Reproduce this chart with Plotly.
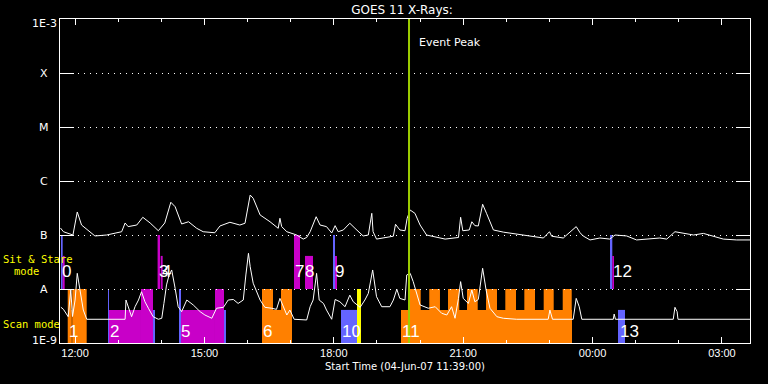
import numpy as np
import plotly.graph_objects as go
from datetime import datetime, timedelta

# ---------------- data ----------------
START = datetime(2007, 6, 4)          # clock hours below are counted from 04-Jun-07 00:00
RANGE_H = [11.65, 27.65]               # 11:39 -> 03:39 next day
EVENT_PEAK_H = 19.743

# GOES 1-8 A (upper) channel
long_h = [11.66, 11.73, 11.95, 12.05, 12.15, 12.35, 12.46, 12.73, 13.08, 13.16, 13.23, 13.43,
          13.57, 13.74, 13.93, 14.08, 14.22, 14.32, 14.47, 14.63, 14.82, 14.97, 15.24, 15.36,
          15.59, 15.82, 15.94, 16.06, 16.13, 16.29, 16.52, 16.71, 16.75, 16.79, 16.91, 17.14,
          17.29, 17.37, 17.45, 17.59, 17.68, 17.83, 17.95, 18.03, 18.10, 18.22, 18.37, 18.49,
          18.68, 18.80, 18.88, 18.91, 18.99, 19.38, 19.43, 19.53, 19.65, 19.70, 19.77, 19.88,
          20.00, 20.15, 20.46, 20.58, 20.89, 20.94, 20.99, 21.14, 21.20, 21.27, 21.35, 21.45,
          21.54, 21.70, 21.93, 22.24, 22.55, 22.86, 23.00, 23.05, 23.32, 23.62, 23.71, 23.78,
          23.94, 24.17, 24.40, 24.52, 24.79, 25.02, 25.56, 25.72, 25.91, 26.10, 26.34, 26.57,
          26.80, 27.03, 27.34, 27.65]
long_flux = [1.35e-7, 1.15e-7, 1.0e-7, 2.67e-7, 1.53e-7, 1.15e-7, 9.6e-8, 1.0e-7, 1.15e-7, 1.67e-7, 1.43e-7, 1.53e-7,
             2.13e-7, 1.67e-7, 1.2e-7, 1.67e-7, 4.04e-7, 3.34e-7, 1.6e-7, 1.76e-7, 1.33e-7, 1.15e-7, 1.1e-7, 1.47e-7,
             1.72e-7, 1.53e-7, 1.65e-7, 5.5e-7, 4.79e-7, 2.35e-7, 1.76e-7, 1.33e-7, 2.04e-7, 1.43e-7, 1.15e-7, 1.0e-7,
             8.4e-8, 9.0e-8, 1.15e-7, 2.18e-7, 1.53e-7, 1.43e-7, 1.09e-7, 1.49e-7, 1.15e-7, 1.24e-7, 1.65e-7, 1.33e-7,
             9.6e-8, 1.0e-7, 2.52e-7, 1.15e-7, 8.4e-8, 9.5e-8, 1.58e-7, 1.24e-7, 1.2e-7, 2.04e-7, 2.9e-7, 2.52e-7,
             1.53e-7, 1.0e-7, 9.0e-8, 8.4e-8, 9.0e-8, 2.13e-7, 1.2e-7, 1.24e-7, 1.76e-7, 1.49e-7, 1.47e-7, 3.71e-7,
             2.52e-7, 1.24e-7, 1.13e-7, 1.05e-7, 9.5e-8, 8.8e-8, 1.15e-7, 9.5e-8, 8.8e-8, 1.43e-7, 1.1e-7, 9.6e-8,
             8.1e-8, 8.8e-8, 8.4e-8, 1.0e-7, 9.6e-8, 8.1e-8, 8.8e-8, 8.4e-8, 1.15e-7, 1.07e-7, 1.0e-7, 1.07e-7,
             9.6e-8, 8.4e-8, 8.1e-8, 8.1e-8]

# GOES 0.5-4 A (lower) channel
short_h = [11.67, 11.73, 11.84, 11.90, 11.94, 12.00, 12.05, 12.11, 12.19, 12.27, 13.16, 13.18,
           13.23, 13.31, 13.39, 13.47, 13.54, 13.62, 13.70, 13.81, 13.93, 14.01, 14.06, 14.12,
           14.18, 14.24, 14.32, 14.39, 14.47, 14.59, 14.74, 14.90, 15.01, 15.17, 15.28, 15.44,
           15.55, 15.67, 15.78, 15.90, 15.96, 16.02, 16.06, 16.13, 16.29, 16.40, 16.56, 16.67,
           16.75, 16.83, 16.91, 16.98, 17.08, 17.37, 17.45, 17.52, 17.60, 17.66, 17.76, 17.83,
           17.95, 18.03, 18.14, 18.26, 18.37, 18.45, 18.61, 18.72, 18.80, 18.90, 18.99, 19.11,
           19.30, 19.38, 19.46, 19.53, 19.65, 19.69, 19.77, 19.84, 20.00, 20.19, 20.35, 20.50,
           20.62, 20.73, 20.81, 20.89, 20.94, 21.00, 21.12, 21.20, 21.27, 21.35, 21.45, 21.53,
           21.62, 21.78, 21.93, 22.24, 22.97, 23.01, 23.07, 23.55, 23.62, 23.69, 23.75, 24.48,
           24.50, 24.53, 25.87, 25.91, 25.96, 25.98, 27.65]
short_flux = [4.6e-9, 4.2e-9, 3.07e-9, 9.6e-9, 3.1e-9, 6.25e-9, 1.95e-8, 9.6e-9, 4.08e-9, 2.75e-9, 2.75e-9, 6.25e-9,
              4.7e-9, 3.07e-9, 4.7e-9, 6.25e-9, 8.9e-9, 5.8e-9, 4.4e-9, 3.07e-9, 2.75e-9, 2.87e-9, 5.4e-9, 1.19e-8,
              1.82e-8, 2.25e-8, 1.03e-8, 4.7e-9, 3.8e-9, 6.25e-9, 5.06e-9, 3.8e-9, 3.3e-9, 2.87e-9, 4.4e-9, 4.58e-9,
              6.25e-9, 6.4e-9, 5.4e-9, 6.25e-9, 1.82e-8, 4.58e-8, 2.59e-8, 1.28e-8, 6.25e-9, 4.58e-9, 4.4e-9, 4.2e-9,
              6.7e-9, 4.7e-9, 3.3e-9, 4.08e-9, 2.75e-9, 2.67e-9, 4.7e-9, 6.25e-9, 1.95e-8, 6.25e-9, 5.4e-9, 4.08e-9,
              2.75e-9, 6.4e-9, 5.8e-9, 4.7e-9, 7.7e-9, 5.8e-9, 4.58e-9, 6.25e-9, 8.3e-9, 2.25e-8, 7.2e-9, 4.7e-9,
              4.7e-9, 6.25e-9, 9.9e-9, 6.7e-9, 6.25e-9, 1.82e-8, 1.95e-8, 1.37e-8, 5.06e-9, 4.4e-9, 4.7e-9, 3.55e-9,
              3.3e-9, 4.7e-9, 2.87e-9, 6.7e-9, 1.37e-8, 6.7e-9, 5.4e-9, 9.6e-9, 5.8e-9, 6.4e-9, 2.42e-8, 9.6e-9,
              4.4e-9, 3.07e-9, 2.87e-9, 2.75e-9, 2.75e-9, 4.08e-9, 2.75e-9, 2.75e-9, 6.7e-9, 4.7e-9, 2.75e-9, 2.75e-9,
              3.44e-9, 2.75e-9, 2.75e-9, 4.58e-9, 3.8e-9, 2.75e-9, 2.75e-9]

# Sit & Stare observations (drawn from 1E-8 upward)
ss_start = [11.673, 11.712, 13.913, 13.985, 17.076, 17.331, 17.980, 18.027, 24.404, 24.457]
ss_end   = [11.712, 11.758, 13.969, 14.031, 17.215, 17.517, 18.027, 18.073, 24.457, 24.496]
ss_top   = [1e-7, 4.1e-8, 1e-7, 4.1e-8, 1e-7, 4.1e-8, 1e-7, 4.1e-8, 1e-7, 4.1e-8]
ss_kind  = ["blue", "magenta", "magenta", "magenta", "magenta", "magenta", "blue", "magenta", "blue", "magenta"]
SS_BASE = 1e-8

# Scan observations (drawn from 1E-9 upward)
sc_start = [11.829, 11.912, 11.935, 12.763, 12.786, 13.528, 13.807, 14.409, 14.456, 15.244, 15.453,
            16.334, 16.589, 16.775, 18.166, 18.537, 19.557,
            19.750, 20.213, 20.647, 21.088, 21.528, 21.976, 22.417, 22.866, 23.307, 24.589]
sc_end   = [11.912, 11.935, 12.269, 12.786, 13.528, 13.807, 13.853, 14.456, 15.244, 15.453, 15.499,
            16.589, 16.775, 17.030, 18.537, 18.630, 23.522,
            20.014, 20.461, 20.909, 21.336, 21.783, 22.224, 22.664, 23.098, 23.516, 24.751]
sc_top   = [1e-8, 4.1e-9, 1e-8, 1e-8, 4.1e-9, 1e-8, 4.1e-9, 1e-8, 4.1e-9, 1e-8, 4.1e-9,
            1e-8, 4.1e-9, 1e-8, 4.1e-9, 1e-8, 4.1e-9,
            1e-8, 1e-8, 1e-8, 1e-8, 1e-8, 1e-8, 1e-8, 1e-8, 1e-8, 4.1e-9]
sc_kind  = ["orange", "orange", "orange", "blue", "magenta", "magenta", "blue", "blue", "magenta", "magenta", "blue",
            "orange", "orange", "orange", "blue", "yellow", "orange",
            "orange", "orange", "orange", "orange", "orange", "orange", "orange", "orange", "orange", "blue"]
SC_BASE = 1e-9

# observation numbers
ss_labels = ["0", "3", "4", "7", "8", "9", "12"]
ss_label_h = [11.696, 13.946, 14.015, 17.099, 17.331, 18.027, 24.473]
sc_labels = ["1", "2", "5", "6", "10", "11", "13"]
sc_label_h = [11.859, 12.809, 14.456, 16.357, 18.189, 19.580, 24.635]
SS_LABEL_Y = 2.15e-8
SC_LABEL_Y = 1.6e-9

ylevels = [1e-3, 1e-4, 1e-5, 1e-6, 1e-7, 1e-8, 1e-9]
ylabels = ["1E-3", "X", "M", "C", "B", "A", "1E-9"]

# ---------------- styling ----------------
COLORS = {"blue": "#6464ff", "magenta": "#c800c8", "orange": "#ff8000", "yellow": "#ffff00"}
WHITE = "#ffffff"
FONT = "DejaVu Sans"
MONO = "DejaVu Sans Mono"


def t(h):
    return START + timedelta(hours=h)


fig = go.Figure()

shapes = []
for s, e, top, k in zip(ss_start, ss_end, ss_top, ss_kind):
    shapes.append(dict(type="rect", xref="x", yref="y", x0=t(s), x1=t(e),
                       y0=SS_BASE, y1=top,
                       fillcolor=COLORS[k], line=dict(width=0), layer="below"))
for s, e, top, k in zip(sc_start, sc_end, sc_top, sc_kind):
    shapes.append(dict(type="rect", xref="x", yref="y", x0=t(s), x1=t(e),
                       y0=SC_BASE, y1=top,
                       fillcolor=COLORS[k], line=dict(width=0), layer="below"))
# event peak line
shapes.append(dict(type="line", xref="x", yref="paper", x0=t(EVENT_PEAK_H), x1=t(EVENT_PEAK_H),
                   y0=0, y1=1, line=dict(color="#9ccc00", width=2), layer="above"))

fig.add_trace(go.Scatter(x=[t(h) for h in long_h], y=long_flux, mode="lines",
                         line=dict(color=WHITE, width=1), showlegend=False, hoverinfo="skip"))
fig.add_trace(go.Scatter(x=[t(h) for h in short_h], y=short_flux, mode="lines",
                         line=dict(color=WHITE, width=1), showlegend=False, hoverinfo="skip"))

ann = []
for txt, h in zip(ss_labels, ss_label_h):
    ann.append(dict(text=txt, x=t(h), y=np.log10(SS_LABEL_Y), xref="x", yref="y",
                    xanchor="left", yanchor="middle", showarrow=False,
                    font=dict(family="Liberation Sans", size=17, color=WHITE), xshift=-2))
for txt, h in zip(sc_labels, sc_label_h):
    ann.append(dict(text=txt, x=t(h), y=np.log10(SC_LABEL_Y), xref="x", yref="y",
                    xanchor="left", yanchor="middle", showarrow=False,
                    font=dict(family="Liberation Sans", size=17, color=WHITE), xshift=-2))
# y-axis level labels
for v, txt in zip(ylevels, ylabels):
    shift = -4 if txt == "1E-3" else (3 if txt == "1E-9" else 0)
    ann.append(dict(text=txt, x=-0.023, y=np.log10(v), xref="paper", yref="y",
                    xanchor="center", yanchor="middle", showarrow=False, yshift=shift,
                    font=dict(family=FONT, size=11, color=WHITE)))
# event peak text
ann.append(dict(text="Event Peak", x=t(EVENT_PEAK_H), y=0.926, xref="x", yref="paper",
                xanchor="left", yanchor="middle", showarrow=False, xshift=8,
                font=dict(family=FONT, size=11, color=WHITE)))
# row labels
ann.append(dict(text="Sit & Stare", x=-0.085, y=0.259, xref="paper", yref="paper",
                xanchor="left", yanchor="middle", showarrow=False,
                font=dict(family=MONO, size=10.5, color="#ffff00")))
ann.append(dict(text="mode", x=-0.069, y=0.222, xref="paper", yref="paper",
                xanchor="left", yanchor="middle", showarrow=False,
                font=dict(family=MONO, size=10.5, color="#ffff00")))
ann.append(dict(text="Scan mode", x=-0.085, y=0.0586, xref="paper", yref="paper",
                xanchor="left", yanchor="middle", showarrow=False,
                font=dict(family=MONO, size=10.5, color="#ffff00")))
# x-axis title
ann.append(dict(text="Start Time (04-Jun-07 11:39:00)", x=0.5, y=-0.074, xref="paper", yref="paper",
                xanchor="center", yanchor="middle", showarrow=False,
                font=dict(family=FONT, size=10, color=WHITE)))

fig.update_layout(
    width=768, height=384,
    margin=dict(l=60, r=18, t=19, b=41, pad=0),
    paper_bgcolor="black", plot_bgcolor="black",
    title=dict(text="GOES 11 X-Rays:", x=0.5235, xanchor="center", y=0.974, yanchor="middle",
               xref="container", yref="container", font=dict(family=FONT, size=12, color=WHITE)),
    shapes=shapes, annotations=ann, showlegend=False,
)
fig.update_xaxes(
    type="date", range=[t(RANGE_H[0]), t(RANGE_H[1])],
    tick0=t(12), dtick=3 * 3600000, tickformat="%H:%M",
    ticks="inside", ticklen=6, tickwidth=1, tickcolor=WHITE,
    minor=dict(dtick=3600000, tick0=t(12), ticks="inside", ticklen=3, tickcolor=WHITE, showgrid=False),
    showline=True, linecolor=WHITE, linewidth=1, mirror="ticks",
    showgrid=False, zeroline=False,
    tickfont=dict(family="Liberation Sans", size=11, color=WHITE),
)
fig.update_yaxes(
    type="log", range=[-9, -3],
    tickmode="array", tickvals=ylevels, showticklabels=False,
    ticks="inside", ticklen=14, tickwidth=1, tickcolor=WHITE,
    showline=True, linecolor=WHITE, linewidth=1, mirror="ticks",
    showgrid=True, gridcolor=WHITE, gridwidth=1, griddash="1px,5px", zeroline=False,
)

fig.write_html("out.html")
